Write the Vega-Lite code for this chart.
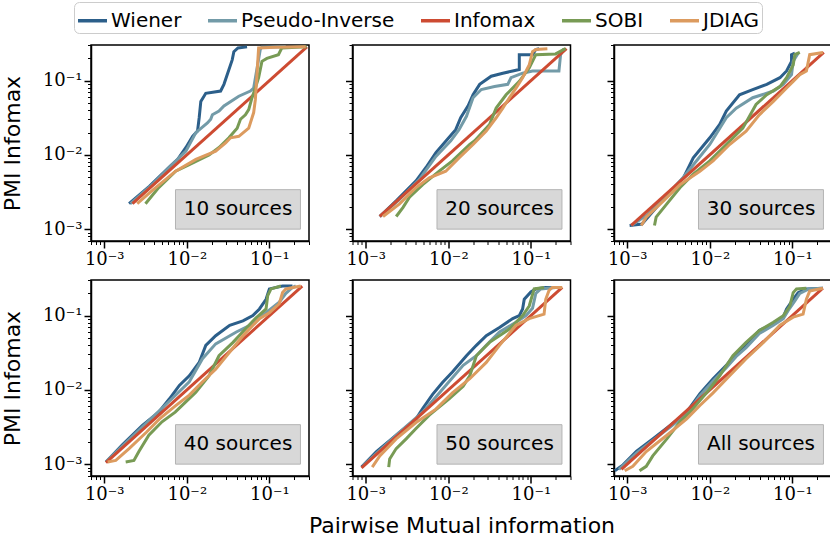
{
  "$schema": "https://vega.github.io/schema/vega-lite/v6.json",
  "padding": {"left": 0, "top": 1, "right": 0, "bottom": 0},
  "config": {
    "view": {"stroke": "black", "strokeWidth": 1.5},
    "font": "DejaVu Sans",
    "axis": {
      "domainColor": "black", "domainWidth": 1.5, "tickColor": "black",
      "gridColor": "#b0b0b0", "gridWidth": 1.2,
      "labelFont": "DejaVu Serif", "labelFontSize": 18, "labelColor": "black", "labelPadding": 2,
      "labelFlush": false, "labelOverlap": false,
      "titleFont": "DejaVu Sans", "titleFontSize": 22, "titleFontWeight": "normal", "titleColor": "black",
      "tickSize": {"condition": {"test": "abs(log(datum.value)/LN10-round(log(datum.value)/LN10))<0.01", "value": 7}, "value": 3.5},
      "tickWidth": {"condition": {"test": "abs(log(datum.value)/LN10-round(log(datum.value)/LN10))<0.01", "value": 1.5}, "value": 1},
      "gridOpacity": {"condition": {"test": "abs(log(datum.value)/LN10-round(log(datum.value)/LN10))<0.01", "value": 1}, "value": 0}
    },
    "legend": {
      "orient": "none", "legendX": -17, "legendY": -43, "direction": "horizontal",
      "labelFont": "DejaVu Sans", "labelFontSize": 20, "labelColor": "black", "labelLimit": 400,
      "symbolType": "stroke", "symbolSize": 841, "symbolStrokeWidth": 3.5,
      "columnPadding": 19, "labelOffset": 2, "padding": 2,
      "strokeColor": "#cccccc", "cornerRadius": 5, "fillColor": "white"
    }
  },
  "datasets": {
    "pmi": [
      {"p":"10","m":"Wiener","x":0.002,"y":0.0022},{"p":"10","m":"Wiener","x":0.00355,"y":0.0038},{"p":"10","m":"Wiener","x":0.00631,"y":0.00708},{"p":"10","m":"Wiener","x":0.00776,"y":0.00871},{"p":"10","m":"Wiener","x":0.00977,"y":0.01259},{"p":"10","m":"Wiener","x":0.01175,"y":0.01778},{"p":"10","m":"Wiener","x":0.01349,"y":0.02089},{"p":"10","m":"Wiener","x":0.01413,"y":0.03162},{"p":"10","m":"Wiener","x":0.01479,"y":0.05248},{"p":"10","m":"Wiener","x":0.01698,"y":0.06761},{"p":"10","m":"Wiener","x":0.0257,"y":0.07244},{"p":"10","m":"Wiener","x":0.02818,"y":0.08913},{"p":"10","m":"Wiener","x":0.03548,"y":0.1905},{"p":"10","m":"Wiener","x":0.03715,"y":0.2455},{"p":"10","m":"Wiener","x":0.04169,"y":0.2754},{"p":"10","m":"Wiener","x":0.0537,"y":0.285},
      {"p":"10","m":"Pseudo-Inverse","x":0.00209,"y":0.0022},{"p":"10","m":"Pseudo-Inverse","x":0.00398,"y":0.00417},{"p":"10","m":"Pseudo-Inverse","x":0.00708,"y":0.00794},{"p":"10","m":"Pseudo-Inverse","x":0.00977,"y":0.01122},{"p":"10","m":"Pseudo-Inverse","x":0.01288,"y":0.01995},{"p":"10","m":"Pseudo-Inverse","x":0.01778,"y":0.02692},{"p":"10","m":"Pseudo-Inverse","x":0.0195,"y":0.0302},{"p":"10","m":"Pseudo-Inverse","x":0.02042,"y":0.03467},{"p":"10","m":"Pseudo-Inverse","x":0.02455,"y":0.0389},{"p":"10","m":"Pseudo-Inverse","x":0.02818,"y":0.04571},{"p":"10","m":"Pseudo-Inverse","x":0.04266,"y":0.06166},{"p":"10","m":"Pseudo-Inverse","x":0.05888,"y":0.07244},{"p":"10","m":"Pseudo-Inverse","x":0.06457,"y":0.07943},{"p":"10","m":"Pseudo-Inverse","x":0.07762,"y":0.263},{"p":"10","m":"Pseudo-Inverse","x":0.08128,"y":0.282},{"p":"10","m":"Pseudo-Inverse","x":0.158,"y":0.285},
      {"p":"10","m":"Infomax","x":0.0022,"y":0.0022},{"p":"10","m":"Infomax","x":0.285,"y":0.285},
      {"p":"10","m":"SOBI","x":0.00316,"y":0.0022},{"p":"10","m":"SOBI","x":0.00457,"y":0.00363},{"p":"10","m":"SOBI","x":0.00733,"y":0.00603},{"p":"10","m":"SOBI","x":0.01072,"y":0.00741},{"p":"10","m":"SOBI","x":0.01862,"y":0.01},{"p":"10","m":"SOBI","x":0.02455,"y":0.01259},{"p":"10","m":"SOBI","x":0.03236,"y":0.01698},{"p":"10","m":"SOBI","x":0.04074,"y":0.02291},{"p":"10","m":"SOBI","x":0.04467,"y":0.0302},{"p":"10","m":"SOBI","x":0.05129,"y":0.03467},{"p":"10","m":"SOBI","x":0.05623,"y":0.04074},{"p":"10","m":"SOBI","x":0.06166,"y":0.05888},{"p":"10","m":"SOBI","x":0.06761,"y":0.07943},{"p":"10","m":"SOBI","x":0.07413,"y":0.1096},{"p":"10","m":"SOBI","x":0.08128,"y":0.182},{"p":"10","m":"SOBI","x":0.09333,"y":0.1995},{"p":"10","m":"SOBI","x":0.1288,"y":0.2239},{"p":"10","m":"SOBI","x":0.1413,"y":0.2754},{"p":"10","m":"SOBI","x":0.282,"y":0.285},
      {"p":"10","m":"JDIAG","x":0.00251,"y":0.0022},{"p":"10","m":"JDIAG","x":0.0038,"y":0.00331},{"p":"10","m":"JDIAG","x":0.00733,"y":0.00603},{"p":"10","m":"JDIAG","x":0.01288,"y":0.00871},{"p":"10","m":"JDIAG","x":0.02239,"y":0.01122},{"p":"10","m":"JDIAG","x":0.02951,"y":0.01445},{"p":"10","m":"JDIAG","x":0.03388,"y":0.01698},{"p":"10","m":"JDIAG","x":0.04266,"y":0.01778},{"p":"10","m":"JDIAG","x":0.05623,"y":0.02291},{"p":"10","m":"JDIAG","x":0.06457,"y":0.03715},{"p":"10","m":"JDIAG","x":0.06761,"y":0.05495},{"p":"10","m":"JDIAG","x":0.07079,"y":0.1202},{"p":"10","m":"JDIAG","x":0.07413,"y":0.2754},{"p":"10","m":"JDIAG","x":0.1175,"y":0.282},{"p":"10","m":"JDIAG","x":0.2754,"y":0.285},

      {"p":"20","m":"Wiener","x":0.00148,"y":0.00148},{"p":"20","m":"Wiener","x":0.00234,"y":0.0024},{"p":"20","m":"Wiener","x":0.00407,"y":0.00447},{"p":"20","m":"Wiener","x":0.00537,"y":0.00676},{"p":"20","m":"Wiener","x":0.00708,"y":0.01072},{"p":"20","m":"Wiener","x":0.00977,"y":0.01622},{"p":"20","m":"Wiener","x":0.0123,"y":0.02188},{"p":"20","m":"Wiener","x":0.01413,"y":0.03162},{"p":"20","m":"Wiener","x":0.01738,"y":0.04571},{"p":"20","m":"Wiener","x":0.01995,"y":0.06457},{"p":"20","m":"Wiener","x":0.02399,"y":0.08913},{"p":"20","m":"Wiener","x":0.03311,"y":0.1148},{"p":"20","m":"Wiener","x":0.04571,"y":0.1259},{"p":"20","m":"Wiener","x":0.06026,"y":0.1349},{"p":"20","m":"Wiener","x":0.07244,"y":0.1413},{"p":"20","m":"Wiener","x":0.07244,"y":0.2239},{"p":"20","m":"Wiener","x":0.1047,"y":0.2239},{"p":"20","m":"Wiener","x":0.1148,"y":0.263},{"p":"20","m":"Wiener","x":0.1259,"y":0.2692},
      {"p":"20","m":"Pseudo-Inverse","x":0.00148,"y":0.00148},{"p":"20","m":"Pseudo-Inverse","x":0.00251,"y":0.00245},{"p":"20","m":"Pseudo-Inverse","x":0.00447,"y":0.00468},{"p":"20","m":"Pseudo-Inverse","x":0.00708,"y":0.00955},{"p":"20","m":"Pseudo-Inverse","x":0.01072,"y":0.01549},{"p":"20","m":"Pseudo-Inverse","x":0.01349,"y":0.02188},{"p":"20","m":"Pseudo-Inverse","x":0.0166,"y":0.03311},{"p":"20","m":"Pseudo-Inverse","x":0.01995,"y":0.05888},{"p":"20","m":"Pseudo-Inverse","x":0.02512,"y":0.07586},{"p":"20","m":"Pseudo-Inverse","x":0.03631,"y":0.08318},{"p":"20","m":"Pseudo-Inverse","x":0.05248,"y":0.08913},{"p":"20","m":"Pseudo-Inverse","x":0.05754,"y":0.1096},{"p":"20","m":"Pseudo-Inverse","x":0.07943,"y":0.1259},{"p":"20","m":"Pseudo-Inverse","x":0.1047,"y":0.1349},{"p":"20","m":"Pseudo-Inverse","x":0.2188,"y":0.1349},{"p":"20","m":"Pseudo-Inverse","x":0.2291,"y":0.2239},{"p":"20","m":"Pseudo-Inverse","x":0.2512,"y":0.2692},
      {"p":"20","m":"Infomax","x":0.00148,"y":0.00148},{"p":"20","m":"Infomax","x":0.27,"y":0.27},
      {"p":"20","m":"SOBI","x":0.00234,"y":0.00148},{"p":"20","m":"SOBI","x":0.00282,"y":0.00195},{"p":"20","m":"SOBI","x":0.00339,"y":0.00269},{"p":"20","m":"SOBI","x":0.0049,"y":0.00398},{"p":"20","m":"SOBI","x":0.00776,"y":0.00603},{"p":"20","m":"SOBI","x":0.01122,"y":0.00832},{"p":"20","m":"SOBI","x":0.0182,"y":0.0138},{"p":"20","m":"SOBI","x":0.02089,"y":0.01549},{"p":"20","m":"SOBI","x":0.03162,"y":0.0257},{"p":"20","m":"SOBI","x":0.038,"y":0.04266},{"p":"20","m":"SOBI","x":0.05012,"y":0.06457},{"p":"20","m":"SOBI","x":0.07244,"y":0.09772},{"p":"20","m":"SOBI","x":0.0955,"y":0.1479},{"p":"20","m":"SOBI","x":0.1148,"y":0.2239},{"p":"20","m":"SOBI","x":0.1995,"y":0.2291},{"p":"20","m":"SOBI","x":0.2512,"y":0.263},{"p":"20","m":"SOBI","x":0.263,"y":0.2692},
      {"p":"20","m":"JDIAG","x":0.00162,"y":0.00148},{"p":"20","m":"JDIAG","x":0.00257,"y":0.00219},{"p":"20","m":"JDIAG","x":0.00407,"y":0.00363},{"p":"20","m":"JDIAG","x":0.00589,"y":0.0049},{"p":"20","m":"JDIAG","x":0.00933,"y":0.00603},{"p":"20","m":"JDIAG","x":0.01349,"y":0.00912},{"p":"20","m":"JDIAG","x":0.01995,"y":0.0138},{"p":"20","m":"JDIAG","x":0.02884,"y":0.02089},{"p":"20","m":"JDIAG","x":0.038,"y":0.03162},{"p":"20","m":"JDIAG","x":0.04571,"y":0.04266},{"p":"20","m":"JDIAG","x":0.05495,"y":0.05888},{"p":"20","m":"JDIAG","x":0.06607,"y":0.07943},{"p":"20","m":"JDIAG","x":0.07943,"y":0.1096},{"p":"20","m":"JDIAG","x":0.0955,"y":0.1622},{"p":"20","m":"JDIAG","x":0.1047,"y":0.2455},{"p":"20","m":"JDIAG","x":0.1148,"y":0.263},{"p":"20","m":"JDIAG","x":0.1585,"y":0.2692},

      {"p":"30","m":"Wiener","x":0.00107,"y":0.00112},{"p":"30","m":"Wiener","x":0.00151,"y":0.00117},{"p":"30","m":"Wiener","x":0.00316,"y":0.00302},{"p":"30","m":"Wiener","x":0.00479,"y":0.0049},{"p":"30","m":"Wiener","x":0.00631,"y":0.00912},{"p":"30","m":"Wiener","x":0.01,"y":0.01698},{"p":"30","m":"Wiener","x":0.01318,"y":0.0257},{"p":"30","m":"Wiener","x":0.01585,"y":0.0389},{"p":"30","m":"Wiener","x":0.02291,"y":0.06457},{"p":"30","m":"Wiener","x":0.03311,"y":0.07586},{"p":"30","m":"Wiener","x":0.04898,"y":0.08913},{"p":"30","m":"Wiener","x":0.07079,"y":0.1096},{"p":"30","m":"Wiener","x":0.08511,"y":0.1349},{"p":"30","m":"Wiener","x":0.09772,"y":0.182},{"p":"30","m":"Wiener","x":0.09772,"y":0.2239},{"p":"30","m":"Wiener","x":0.1072,"y":0.2344},
      {"p":"30","m":"Pseudo-Inverse","x":0.00112,"y":0.00112},{"p":"30","m":"Pseudo-Inverse","x":0.00178,"y":0.00158},{"p":"30","m":"Pseudo-Inverse","x":0.00316,"y":0.00302},{"p":"30","m":"Pseudo-Inverse","x":0.00479,"y":0.00501},{"p":"30","m":"Pseudo-Inverse","x":0.00692,"y":0.00832},{"p":"30","m":"Pseudo-Inverse","x":0.01,"y":0.0138},{"p":"30","m":"Pseudo-Inverse","x":0.01585,"y":0.03162},{"p":"30","m":"Pseudo-Inverse","x":0.02089,"y":0.04266},{"p":"30","m":"Pseudo-Inverse","x":0.03311,"y":0.05888},{"p":"30","m":"Pseudo-Inverse","x":0.05888,"y":0.07244},{"p":"30","m":"Pseudo-Inverse","x":0.07762,"y":0.08913},{"p":"30","m":"Pseudo-Inverse","x":0.09772,"y":0.1202},{"p":"30","m":"Pseudo-Inverse","x":0.1023,"y":0.182},{"p":"30","m":"Pseudo-Inverse","x":0.1175,"y":0.2344},
      {"p":"30","m":"Infomax","x":0.00112,"y":0.00112},{"p":"30","m":"Infomax","x":0.24,"y":0.24},
      {"p":"30","m":"SOBI","x":0.00214,"y":0.00112},{"p":"30","m":"SOBI","x":0.00224,"y":0.00145},{"p":"30","m":"SOBI","x":0.00302,"y":0.00219},{"p":"30","m":"SOBI","x":0.00437,"y":0.00363},{"p":"30","m":"SOBI","x":0.00631,"y":0.0055},{"p":"30","m":"SOBI","x":0.01,"y":0.00832},{"p":"30","m":"SOBI","x":0.01585,"y":0.0138},{"p":"30","m":"SOBI","x":0.02512,"y":0.02291},{"p":"30","m":"SOBI","x":0.03631,"y":0.04786},{"p":"30","m":"SOBI","x":0.04898,"y":0.06457},{"p":"30","m":"SOBI","x":0.07079,"y":0.08318},{"p":"30","m":"SOBI","x":0.08511,"y":0.1096},{"p":"30","m":"SOBI","x":0.1023,"y":0.1622},{"p":"30","m":"SOBI","x":0.1072,"y":0.2239},{"p":"30","m":"SOBI","x":0.123,"y":0.2399},
      {"p":"30","m":"JDIAG","x":0.00148,"y":0.00112},{"p":"30","m":"JDIAG","x":0.0017,"y":0.00145},{"p":"30","m":"JDIAG","x":0.00275,"y":0.0024},{"p":"30","m":"JDIAG","x":0.00437,"y":0.00398},{"p":"30","m":"JDIAG","x":0.00759,"y":0.00603},{"p":"30","m":"JDIAG","x":0.01096,"y":0.00832},{"p":"30","m":"JDIAG","x":0.01738,"y":0.0138},{"p":"30","m":"JDIAG","x":0.02754,"y":0.02089},{"p":"30","m":"JDIAG","x":0.03981,"y":0.03467},{"p":"30","m":"JDIAG","x":0.05888,"y":0.05248},{"p":"30","m":"JDIAG","x":0.08511,"y":0.07943},{"p":"30","m":"JDIAG","x":0.1023,"y":0.09772},{"p":"30","m":"JDIAG","x":0.123,"y":0.1202},{"p":"30","m":"JDIAG","x":0.1479,"y":0.1349},{"p":"30","m":"JDIAG","x":0.1622,"y":0.2239},{"p":"30","m":"JDIAG","x":0.2344,"y":0.2399},

      {"p":"40","m":"Wiener","x":0.00105,"y":0.00107},{"p":"40","m":"Wiener","x":0.00166,"y":0.00182},{"p":"40","m":"Wiener","x":0.00288,"y":0.00331},{"p":"40","m":"Wiener","x":0.00457,"y":0.00501},{"p":"40","m":"Wiener","x":0.00617,"y":0.00759},{"p":"40","m":"Wiener","x":0.00813,"y":0.01148},{"p":"40","m":"Wiener","x":0.01072,"y":0.01549},{"p":"40","m":"Wiener","x":0.01413,"y":0.02344},{"p":"40","m":"Wiener","x":0.01698,"y":0.03981},{"p":"40","m":"Wiener","x":0.02239,"y":0.0537},{"p":"40","m":"Wiener","x":0.03311,"y":0.07413},{"p":"40","m":"Wiener","x":0.04786,"y":0.08511},{"p":"40","m":"Wiener","x":0.0631,"y":0.1},{"p":"40","m":"Wiener","x":0.07586,"y":0.123},{"p":"40","m":"Wiener","x":0.0912,"y":0.166},{"p":"40","m":"Wiener","x":0.1,"y":0.2291},{"p":"40","m":"Wiener","x":0.1445,"y":0.2512},{"p":"40","m":"Wiener","x":0.1905,"y":0.2512},
      {"p":"40","m":"Pseudo-Inverse","x":0.00105,"y":0.00107},{"p":"40","m":"Pseudo-Inverse","x":0.00288,"y":0.00316},{"p":"40","m":"Pseudo-Inverse","x":0.00661,"y":0.00759},{"p":"40","m":"Pseudo-Inverse","x":0.01072,"y":0.01288},{"p":"40","m":"Pseudo-Inverse","x":0.01549,"y":0.0263},{"p":"40","m":"Pseudo-Inverse","x":0.02239,"y":0.04169},{"p":"40","m":"Pseudo-Inverse","x":0.03981,"y":0.06026},{"p":"40","m":"Pseudo-Inverse","x":0.0631,"y":0.07762},{"p":"40","m":"Pseudo-Inverse","x":0.0912,"y":0.1096},{"p":"40","m":"Pseudo-Inverse","x":0.1318,"y":0.1514},{"p":"40","m":"Pseudo-Inverse","x":0.1585,"y":0.1995},{"p":"40","m":"Pseudo-Inverse","x":0.1905,"y":0.2399},{"p":"40","m":"Pseudo-Inverse","x":0.2089,"y":0.2512},
      {"p":"40","m":"Infomax","x":0.00105,"y":0.00105},{"p":"40","m":"Infomax","x":0.25,"y":0.25},
      {"p":"40","m":"SOBI","x":0.00182,"y":0.00107},{"p":"40","m":"SOBI","x":0.00229,"y":0.00112},{"p":"40","m":"SOBI","x":0.00263,"y":0.00148},{"p":"40","m":"SOBI","x":0.00347,"y":0.00245},{"p":"40","m":"SOBI","x":0.00501,"y":0.00372},{"p":"40","m":"SOBI","x":0.00724,"y":0.00501},{"p":"40","m":"SOBI","x":0.01288,"y":0.00933},{"p":"40","m":"SOBI","x":0.01862,"y":0.01549},{"p":"40","m":"SOBI","x":0.02455,"y":0.02884},{"p":"40","m":"SOBI","x":0.03631,"y":0.04365},{"p":"40","m":"SOBI","x":0.05129,"y":0.06607},{"p":"40","m":"SOBI","x":0.06761,"y":0.0912},{"p":"40","m":"SOBI","x":0.0912,"y":0.123},{"p":"40","m":"SOBI","x":0.0955,"y":0.1862},{"p":"40","m":"SOBI","x":0.1047,"y":0.2291},{"p":"40","m":"SOBI","x":0.138,"y":0.2512},
      {"p":"40","m":"JDIAG","x":0.0011,"y":0.00107},{"p":"40","m":"JDIAG","x":0.00138,"y":0.00112},{"p":"40","m":"JDIAG","x":0.002,"y":0.00162},{"p":"40","m":"JDIAG","x":0.00324,"y":0.00269},{"p":"40","m":"JDIAG","x":0.00468,"y":0.00407},{"p":"40","m":"JDIAG","x":0.00741,"y":0.00617},{"p":"40","m":"JDIAG","x":0.01072,"y":0.00851},{"p":"40","m":"JDIAG","x":0.01549,"y":0.01288},{"p":"40","m":"JDIAG","x":0.02239,"y":0.01905},{"p":"40","m":"JDIAG","x":0.03311,"y":0.03236},{"p":"40","m":"JDIAG","x":0.04786,"y":0.0537},{"p":"40","m":"JDIAG","x":0.07586,"y":0.0912},{"p":"40","m":"JDIAG","x":0.1,"y":0.1096},{"p":"40","m":"JDIAG","x":0.1318,"y":0.1445},{"p":"40","m":"JDIAG","x":0.1445,"y":0.2042},{"p":"40","m":"JDIAG","x":0.1585,"y":0.2291},{"p":"40","m":"JDIAG","x":0.2399,"y":0.2512},

      {"p":"50","m":"Wiener","x":0.000891,"y":0.000912},{"p":"50","m":"Wiener","x":0.00135,"y":0.00148},{"p":"50","m":"Wiener","x":0.00234,"y":0.00245},{"p":"50","m":"Wiener","x":0.00407,"y":0.00407},{"p":"50","m":"Wiener","x":0.0049,"y":0.00562},{"p":"50","m":"Wiener","x":0.00646,"y":0.00871},{"p":"50","m":"Wiener","x":0.00851,"y":0.01259},{"p":"50","m":"Wiener","x":0.01122,"y":0.01738},{"p":"50","m":"Wiener","x":0.0166,"y":0.02884},{"p":"50","m":"Wiener","x":0.02188,"y":0.03981},{"p":"50","m":"Wiener","x":0.02884,"y":0.0537},{"p":"50","m":"Wiener","x":0.04169,"y":0.06918},{"p":"50","m":"Wiener","x":0.06026,"y":0.0912},{"p":"50","m":"Wiener","x":0.07244,"y":0.1},{"p":"50","m":"Wiener","x":0.07943,"y":0.123},{"p":"50","m":"Wiener","x":0.08318,"y":0.166},{"p":"50","m":"Wiener","x":0.1,"y":0.2089},{"p":"50","m":"Wiener","x":0.1148,"y":0.2291},{"p":"50","m":"Wiener","x":0.1514,"y":0.2399},{"p":"50","m":"Wiener","x":0.2291,"y":0.2399},
      {"p":"50","m":"Pseudo-Inverse","x":0.000933,"y":0.000955},{"p":"50","m":"Pseudo-Inverse","x":0.00251,"y":0.00263},{"p":"50","m":"Pseudo-Inverse","x":0.0049,"y":0.00501},{"p":"50","m":"Pseudo-Inverse","x":0.00851,"y":0.01023},{"p":"50","m":"Pseudo-Inverse","x":0.01514,"y":0.02138},{"p":"50","m":"Pseudo-Inverse","x":0.02188,"y":0.02884},{"p":"50","m":"Pseudo-Inverse","x":0.02884,"y":0.03981},{"p":"50","m":"Pseudo-Inverse","x":0.04169,"y":0.06026},{"p":"50","m":"Pseudo-Inverse","x":0.06607,"y":0.08128},{"p":"50","m":"Pseudo-Inverse","x":0.0871,"y":0.1},{"p":"50","m":"Pseudo-Inverse","x":0.1047,"y":0.1259},{"p":"50","m":"Pseudo-Inverse","x":0.1148,"y":0.1995},{"p":"50","m":"Pseudo-Inverse","x":0.1318,"y":0.2291},{"p":"50","m":"Pseudo-Inverse","x":0.1995,"y":0.2399},
      {"p":"50","m":"Infomax","x":0.00089,"y":0.00089},{"p":"50","m":"Infomax","x":0.24,"y":0.24},
      {"p":"50","m":"SOBI","x":0.0019,"y":0.000912},{"p":"50","m":"SOBI","x":0.00195,"y":0.00117},{"p":"50","m":"SOBI","x":0.00234,"y":0.00162},{"p":"50","m":"SOBI","x":0.00309,"y":0.00219},{"p":"50","m":"SOBI","x":0.00407,"y":0.00302},{"p":"50","m":"SOBI","x":0.00589,"y":0.00457},{"p":"50","m":"SOBI","x":0.01023,"y":0.00759},{"p":"50","m":"SOBI","x":0.01514,"y":0.01122},{"p":"50","m":"SOBI","x":0.0182,"y":0.01549},{"p":"50","m":"SOBI","x":0.02188,"y":0.02884},{"p":"50","m":"SOBI","x":0.03162,"y":0.04365},{"p":"50","m":"SOBI","x":0.05495,"y":0.06607},{"p":"50","m":"SOBI","x":0.07943,"y":0.1},{"p":"50","m":"SOBI","x":0.0955,"y":0.1349},{"p":"50","m":"SOBI","x":0.1096,"y":0.2291},{"p":"50","m":"SOBI","x":0.1445,"y":0.2399},
      {"p":"50","m":"JDIAG","x":0.0012,"y":0.000912},{"p":"50","m":"JDIAG","x":0.00148,"y":0.00129},{"p":"50","m":"JDIAG","x":0.00234,"y":0.00219},{"p":"50","m":"JDIAG","x":0.00407,"y":0.00363},{"p":"50","m":"JDIAG","x":0.00708,"y":0.0055},{"p":"50","m":"JDIAG","x":0.01122,"y":0.00912},{"p":"50","m":"JDIAG","x":0.0182,"y":0.01413},{"p":"50","m":"JDIAG","x":0.02884,"y":0.02344},{"p":"50","m":"JDIAG","x":0.04169,"y":0.03981},{"p":"50","m":"JDIAG","x":0.06607,"y":0.07413},{"p":"50","m":"JDIAG","x":0.0955,"y":0.0912},{"p":"50","m":"JDIAG","x":0.1445,"y":0.1047},{"p":"50","m":"JDIAG","x":0.1514,"y":0.166},{"p":"50","m":"JDIAG","x":0.166,"y":0.2188},{"p":"50","m":"JDIAG","x":0.182,"y":0.2399},{"p":"50","m":"JDIAG","x":0.2399,"y":0.2399},

      {"p":"All","m":"Wiener","x":0.000708,"y":0.000813},{"p":"All","m":"Wiener","x":0.000891,"y":0.000977},{"p":"All","m":"Wiener","x":0.00129,"y":0.00148},{"p":"All","m":"Wiener","x":0.00204,"y":0.00219},{"p":"All","m":"Wiener","x":0.00331,"y":0.00331},{"p":"All","m":"Wiener","x":0.00525,"y":0.00501},{"p":"All","m":"Wiener","x":0.00759,"y":0.00891},{"p":"All","m":"Wiener","x":0.01096,"y":0.01413},{"p":"All","m":"Wiener","x":0.01585,"y":0.02138},{"p":"All","m":"Wiener","x":0.02089,"y":0.0309},{"p":"All","m":"Wiener","x":0.02754,"y":0.03981},{"p":"All","m":"Wiener","x":0.03981,"y":0.0631},{"p":"All","m":"Wiener","x":0.05888,"y":0.07762},{"p":"All","m":"Wiener","x":0.07762,"y":0.0955},{"p":"All","m":"Wiener","x":0.08511,"y":0.123},{"p":"All","m":"Wiener","x":0.1023,"y":0.166},{"p":"All","m":"Wiener","x":0.1175,"y":0.2042},{"p":"All","m":"Wiener","x":0.1479,"y":0.2291},{"p":"All","m":"Wiener","x":0.2344,"y":0.2344},
      {"p":"All","m":"Pseudo-Inverse","x":0.000794,"y":0.000851},{"p":"All","m":"Pseudo-Inverse","x":0.00129,"y":0.00141},{"p":"All","m":"Pseudo-Inverse","x":0.00204,"y":0.00209},{"p":"All","m":"Pseudo-Inverse","x":0.00331,"y":0.00316},{"p":"All","m":"Pseudo-Inverse","x":0.00525,"y":0.00479},{"p":"All","m":"Pseudo-Inverse","x":0.00759,"y":0.00832},{"p":"All","m":"Pseudo-Inverse","x":0.01096,"y":0.01318},{"p":"All","m":"Pseudo-Inverse","x":0.01585,"y":0.01995},{"p":"All","m":"Pseudo-Inverse","x":0.02089,"y":0.02818},{"p":"All","m":"Pseudo-Inverse","x":0.02754,"y":0.03715},{"p":"All","m":"Pseudo-Inverse","x":0.03981,"y":0.05754},{"p":"All","m":"Pseudo-Inverse","x":0.05888,"y":0.07413},{"p":"All","m":"Pseudo-Inverse","x":0.07762,"y":0.0912},{"p":"All","m":"Pseudo-Inverse","x":0.08913,"y":0.1175},{"p":"All","m":"Pseudo-Inverse","x":0.1072,"y":0.1585},{"p":"All","m":"Pseudo-Inverse","x":0.123,"y":0.1995},{"p":"All","m":"Pseudo-Inverse","x":0.1585,"y":0.2291},{"p":"All","m":"Pseudo-Inverse","x":0.2344,"y":0.2344},
      {"p":"All","m":"Infomax","x":0.00085,"y":0.00085},{"p":"All","m":"Infomax","x":0.234,"y":0.234},
      {"p":"All","m":"SOBI","x":0.00141,"y":0.000813},{"p":"All","m":"SOBI","x":0.0017,"y":0.000933},{"p":"All","m":"SOBI","x":0.00204,"y":0.00129},{"p":"All","m":"SOBI","x":0.00302,"y":0.00219},{"p":"All","m":"SOBI","x":0.00437,"y":0.00372},{"p":"All","m":"SOBI","x":0.00575,"y":0.00501},{"p":"All","m":"SOBI","x":0.00912,"y":0.00912},{"p":"All","m":"SOBI","x":0.01318,"y":0.01549},{"p":"All","m":"SOBI","x":0.01905,"y":0.02884},{"p":"All","m":"SOBI","x":0.02754,"y":0.04365},{"p":"All","m":"SOBI","x":0.03981,"y":0.0631},{"p":"All","m":"SOBI","x":0.05888,"y":0.08128},{"p":"All","m":"SOBI","x":0.07762,"y":0.1},{"p":"All","m":"SOBI","x":0.09333,"y":0.1349},{"p":"All","m":"SOBI","x":0.1023,"y":0.2042},{"p":"All","m":"SOBI","x":0.1122,"y":0.2291},{"p":"All","m":"SOBI","x":0.1479,"y":0.2344},
      {"p":"All","m":"JDIAG","x":0.000933,"y":0.000813},{"p":"All","m":"JDIAG","x":0.00117,"y":0.000933},{"p":"All","m":"JDIAG","x":0.0017,"y":0.00148},{"p":"All","m":"JDIAG","x":0.00302,"y":0.00245},{"p":"All","m":"JDIAG","x":0.00525,"y":0.00407},{"p":"All","m":"JDIAG","x":0.00759,"y":0.00617},{"p":"All","m":"JDIAG","x":0.01096,"y":0.00912},{"p":"All","m":"JDIAG","x":0.01738,"y":0.01549},{"p":"All","m":"JDIAG","x":0.02754,"y":0.0263},{"p":"All","m":"JDIAG","x":0.04467,"y":0.04365},{"p":"All","m":"JDIAG","x":0.07079,"y":0.07413},{"p":"All","m":"JDIAG","x":0.1023,"y":0.0955},{"p":"All","m":"JDIAG","x":0.1349,"y":0.1047},{"p":"All","m":"JDIAG","x":0.1479,"y":0.166},{"p":"All","m":"JDIAG","x":0.1622,"y":0.2138},{"p":"All","m":"JDIAG","x":0.2344,"y":0.2344}
    ]
  },
  "columns": 3,
  "spacing": {"row": 39, "column": 43.5},
  "bounds": "flush",
  "concat": [
    {
      "width": 218, "height": 196,
      "layer": [
        {"data": {"values": [{"label": "10 sources"}]}, "mark": {"type": "rect", "fill": "#c8c8c8", "fillOpacity": 0.7, "stroke": "#b4b4b4", "strokeWidth": 1},
         "encoding": {"x": {"datum": 0.0073}, "x2": {"datum": 0.238}, "y": {"datum": 0.0034}, "y2": {"datum": 0.001}}},
        {"data": {"values": [{"label": "10 sources"}]}, "mark": {"type": "text", "font": "DejaVu Sans", "fontSize": 20, "baseline": "middle"},
         "encoding": {"x": {"datum": 0.0417}, "y": {"datum": 0.00184}, "text": {"field": "label"}}},
        {"data": {"name": "pmi"}, "transform": [{"filter": "datum.p == '10'"}],
         "mark": {"type": "line", "strokeWidth": 3, "clip": true},
         "encoding": {
           "x": {"field": "x", "type": "quantitative", "scale": {"type": "log", "domain": [0.000692, 0.302], "nice": false},
                 "axis": {"title": null, "values": [0.0007,0.0008,0.0009,0.001,0.002,0.003,0.004,0.005,0.006,0.007,0.008,0.009,0.01,0.02,0.03,0.04,0.05,0.06,0.07,0.08,0.09,0.1,0.2,0.3], "labelExpr": "abs(log(datum.value)/LN10-round(log(datum.value)/LN10))<0.01 ? '10' + ['⁰','⁻¹','⁻²','⁻³'][-round(log(datum.value)/LN10)] : ''"}},
           "y": {"field": "y", "type": "quantitative", "scale": {"type": "log", "domain": [0.000692, 0.302], "nice": false},
                 "axis": {"title": "PMI Infomax", "titlePadding": 18, "values": [0.0007,0.0008,0.0009,0.001,0.002,0.003,0.004,0.005,0.006,0.007,0.008,0.009,0.01,0.02,0.03,0.04,0.05,0.06,0.07,0.08,0.09,0.1,0.2,0.3], "labelExpr": "abs(log(datum.value)/LN10-round(log(datum.value)/LN10))<0.01 ? '10' + ['⁰','⁻¹','⁻²','⁻³'][-round(log(datum.value)/LN10)] : ''"}},
           "color": {"field": "m", "type": "nominal", "title": null, "scale": {"domain": ["Wiener","Pseudo-Inverse","Infomax","SOBI","JDIAG"], "range": ["#2c5f8a","#739ba8","#cd4b32","#789b55","#dc9b5f"]}},
           "order": {"value": null}
         }}
      ]
    },
    {
      "width": 218, "height": 196,
      "layer": [
        {"data": {"values": [{"label": "20 sources"}]}, "mark": {"type": "rect", "fill": "#c8c8c8", "fillOpacity": 0.7, "stroke": "#b4b4b4", "strokeWidth": 1},
         "encoding": {"x": {"datum": 0.0073}, "x2": {"datum": 0.238}, "y": {"datum": 0.0034}, "y2": {"datum": 0.001}}},
        {"data": {"values": [{"label": "20 sources"}]}, "mark": {"type": "text", "font": "DejaVu Sans", "fontSize": 20, "baseline": "middle"},
         "encoding": {"x": {"datum": 0.0417}, "y": {"datum": 0.00184}, "text": {"field": "label"}}},
        {"data": {"name": "pmi"}, "transform": [{"filter": "datum.p == '20'"}],
         "mark": {"type": "line", "strokeWidth": 3, "clip": true},
         "encoding": {
           "x": {"field": "x", "type": "quantitative", "scale": {"type": "log", "domain": [0.000692, 0.302], "nice": false},
                 "axis": {"title": null, "values": [0.0007,0.0008,0.0009,0.001,0.002,0.003,0.004,0.005,0.006,0.007,0.008,0.009,0.01,0.02,0.03,0.04,0.05,0.06,0.07,0.08,0.09,0.1,0.2,0.3], "labelExpr": "abs(log(datum.value)/LN10-round(log(datum.value)/LN10))<0.01 ? '10' + ['⁰','⁻¹','⁻²','⁻³'][-round(log(datum.value)/LN10)] : ''"}},
           "y": {"field": "y", "type": "quantitative", "scale": {"type": "log", "domain": [0.000692, 0.302], "nice": false},
                 "axis": {"title": null, "labels": false, "values": [0.0007,0.0008,0.0009,0.001,0.002,0.003,0.004,0.005,0.006,0.007,0.008,0.009,0.01,0.02,0.03,0.04,0.05,0.06,0.07,0.08,0.09,0.1,0.2,0.3]}},
           "color": {"field": "m", "type": "nominal", "title": null, "scale": {"domain": ["Wiener","Pseudo-Inverse","Infomax","SOBI","JDIAG"], "range": ["#2c5f8a","#739ba8","#cd4b32","#789b55","#dc9b5f"]}},
           "order": {"value": null}
         }}
      ]
    },
    {
      "width": 218, "height": 196,
      "layer": [
        {"data": {"values": [{"label": "30 sources"}]}, "mark": {"type": "rect", "fill": "#c8c8c8", "fillOpacity": 0.7, "stroke": "#b4b4b4", "strokeWidth": 1},
         "encoding": {"x": {"datum": 0.0073}, "x2": {"datum": 0.238}, "y": {"datum": 0.0034}, "y2": {"datum": 0.001}}},
        {"data": {"values": [{"label": "30 sources"}]}, "mark": {"type": "text", "font": "DejaVu Sans", "fontSize": 20, "baseline": "middle"},
         "encoding": {"x": {"datum": 0.0417}, "y": {"datum": 0.00184}, "text": {"field": "label"}}},
        {"data": {"name": "pmi"}, "transform": [{"filter": "datum.p == '30'"}],
         "mark": {"type": "line", "strokeWidth": 3, "clip": true},
         "encoding": {
           "x": {"field": "x", "type": "quantitative", "scale": {"type": "log", "domain": [0.000692, 0.302], "nice": false},
                 "axis": {"title": null, "values": [0.0007,0.0008,0.0009,0.001,0.002,0.003,0.004,0.005,0.006,0.007,0.008,0.009,0.01,0.02,0.03,0.04,0.05,0.06,0.07,0.08,0.09,0.1,0.2,0.3], "labelExpr": "abs(log(datum.value)/LN10-round(log(datum.value)/LN10))<0.01 ? '10' + ['⁰','⁻¹','⁻²','⁻³'][-round(log(datum.value)/LN10)] : ''"}},
           "y": {"field": "y", "type": "quantitative", "scale": {"type": "log", "domain": [0.000692, 0.302], "nice": false},
                 "axis": {"title": null, "labels": false, "values": [0.0007,0.0008,0.0009,0.001,0.002,0.003,0.004,0.005,0.006,0.007,0.008,0.009,0.01,0.02,0.03,0.04,0.05,0.06,0.07,0.08,0.09,0.1,0.2,0.3]}},
           "color": {"field": "m", "type": "nominal", "title": null, "scale": {"domain": ["Wiener","Pseudo-Inverse","Infomax","SOBI","JDIAG"], "range": ["#2c5f8a","#739ba8","#cd4b32","#789b55","#dc9b5f"]}},
           "order": {"value": null}
         }}
      ]
    },
    {
      "width": 218, "height": 196,
      "layer": [
        {"data": {"values": [{"label": "40 sources"}]}, "mark": {"type": "rect", "fill": "#c8c8c8", "fillOpacity": 0.7, "stroke": "#b4b4b4", "strokeWidth": 1},
         "encoding": {"x": {"datum": 0.0073}, "x2": {"datum": 0.238}, "y": {"datum": 0.0034}, "y2": {"datum": 0.001}}},
        {"data": {"values": [{"label": "40 sources"}]}, "mark": {"type": "text", "font": "DejaVu Sans", "fontSize": 20, "baseline": "middle"},
         "encoding": {"x": {"datum": 0.0417}, "y": {"datum": 0.00184}, "text": {"field": "label"}}},
        {"data": {"name": "pmi"}, "transform": [{"filter": "datum.p == '40'"}],
         "mark": {"type": "line", "strokeWidth": 3, "clip": true},
         "encoding": {
           "x": {"field": "x", "type": "quantitative", "scale": {"type": "log", "domain": [0.000692, 0.302], "nice": false},
                 "axis": {"title": null, "values": [0.0007,0.0008,0.0009,0.001,0.002,0.003,0.004,0.005,0.006,0.007,0.008,0.009,0.01,0.02,0.03,0.04,0.05,0.06,0.07,0.08,0.09,0.1,0.2,0.3], "labelExpr": "abs(log(datum.value)/LN10-round(log(datum.value)/LN10))<0.01 ? '10' + ['⁰','⁻¹','⁻²','⁻³'][-round(log(datum.value)/LN10)] : ''"}},
           "y": {"field": "y", "type": "quantitative", "scale": {"type": "log", "domain": [0.000692, 0.302], "nice": false},
                 "axis": {"title": "PMI Infomax", "titlePadding": 18, "values": [0.0007,0.0008,0.0009,0.001,0.002,0.003,0.004,0.005,0.006,0.007,0.008,0.009,0.01,0.02,0.03,0.04,0.05,0.06,0.07,0.08,0.09,0.1,0.2,0.3], "labelExpr": "abs(log(datum.value)/LN10-round(log(datum.value)/LN10))<0.01 ? '10' + ['⁰','⁻¹','⁻²','⁻³'][-round(log(datum.value)/LN10)] : ''"}},
           "color": {"field": "m", "type": "nominal", "title": null, "scale": {"domain": ["Wiener","Pseudo-Inverse","Infomax","SOBI","JDIAG"], "range": ["#2c5f8a","#739ba8","#cd4b32","#789b55","#dc9b5f"]}},
           "order": {"value": null}
         }}
      ]
    },
    {
      "width": 218, "height": 196,
      "layer": [
        {"data": {"values": [{"label": "50 sources"}]}, "mark": {"type": "rect", "fill": "#c8c8c8", "fillOpacity": 0.7, "stroke": "#b4b4b4", "strokeWidth": 1},
         "encoding": {"x": {"datum": 0.0073}, "x2": {"datum": 0.238}, "y": {"datum": 0.0034}, "y2": {"datum": 0.001}}},
        {"data": {"values": [{"label": "50 sources"}]}, "mark": {"type": "text", "font": "DejaVu Sans", "fontSize": 20, "baseline": "middle"},
         "encoding": {"x": {"datum": 0.0417}, "y": {"datum": 0.00184}, "text": {"field": "label"}}},
        {"data": {"name": "pmi"}, "transform": [{"filter": "datum.p == '50'"}],
         "mark": {"type": "line", "strokeWidth": 3, "clip": true},
         "encoding": {
           "x": {"field": "x", "type": "quantitative", "scale": {"type": "log", "domain": [0.000692, 0.302], "nice": false},
                 "axis": {"title": "Pairwise Mutual information", "titlePadding": 12, "values": [0.0007,0.0008,0.0009,0.001,0.002,0.003,0.004,0.005,0.006,0.007,0.008,0.009,0.01,0.02,0.03,0.04,0.05,0.06,0.07,0.08,0.09,0.1,0.2,0.3], "labelExpr": "abs(log(datum.value)/LN10-round(log(datum.value)/LN10))<0.01 ? '10' + ['⁰','⁻¹','⁻²','⁻³'][-round(log(datum.value)/LN10)] : ''"}},
           "y": {"field": "y", "type": "quantitative", "scale": {"type": "log", "domain": [0.000692, 0.302], "nice": false},
                 "axis": {"title": null, "labels": false, "values": [0.0007,0.0008,0.0009,0.001,0.002,0.003,0.004,0.005,0.006,0.007,0.008,0.009,0.01,0.02,0.03,0.04,0.05,0.06,0.07,0.08,0.09,0.1,0.2,0.3]}},
           "color": {"field": "m", "type": "nominal", "title": null, "scale": {"domain": ["Wiener","Pseudo-Inverse","Infomax","SOBI","JDIAG"], "range": ["#2c5f8a","#739ba8","#cd4b32","#789b55","#dc9b5f"]}},
           "order": {"value": null}
         }}
      ]
    },
    {
      "width": 218, "height": 196,
      "layer": [
        {"data": {"values": [{"label": "All sources"}]}, "mark": {"type": "rect", "fill": "#c8c8c8", "fillOpacity": 0.7, "stroke": "#b4b4b4", "strokeWidth": 1},
         "encoding": {"x": {"datum": 0.0073}, "x2": {"datum": 0.238}, "y": {"datum": 0.0034}, "y2": {"datum": 0.001}}},
        {"data": {"values": [{"label": "All sources"}]}, "mark": {"type": "text", "font": "DejaVu Sans", "fontSize": 20, "baseline": "middle"},
         "encoding": {"x": {"datum": 0.0417}, "y": {"datum": 0.00184}, "text": {"field": "label"}}},
        {"data": {"name": "pmi"}, "transform": [{"filter": "datum.p == 'All'"}],
         "mark": {"type": "line", "strokeWidth": 3, "clip": true},
         "encoding": {
           "x": {"field": "x", "type": "quantitative", "scale": {"type": "log", "domain": [0.000692, 0.302], "nice": false},
                 "axis": {"title": null, "values": [0.0007,0.0008,0.0009,0.001,0.002,0.003,0.004,0.005,0.006,0.007,0.008,0.009,0.01,0.02,0.03,0.04,0.05,0.06,0.07,0.08,0.09,0.1,0.2,0.3], "labelExpr": "abs(log(datum.value)/LN10-round(log(datum.value)/LN10))<0.01 ? '10' + ['⁰','⁻¹','⁻²','⁻³'][-round(log(datum.value)/LN10)] : ''"}},
           "y": {"field": "y", "type": "quantitative", "scale": {"type": "log", "domain": [0.000692, 0.302], "nice": false},
                 "axis": {"title": null, "labels": false, "values": [0.0007,0.0008,0.0009,0.001,0.002,0.003,0.004,0.005,0.006,0.007,0.008,0.009,0.01,0.02,0.03,0.04,0.05,0.06,0.07,0.08,0.09,0.1,0.2,0.3]}},
           "color": {"field": "m", "type": "nominal", "title": null, "scale": {"domain": ["Wiener","Pseudo-Inverse","Infomax","SOBI","JDIAG"], "range": ["#2c5f8a","#739ba8","#cd4b32","#789b55","#dc9b5f"]}},
           "order": {"value": null}
         }}
      ]
    }
  ]
}
